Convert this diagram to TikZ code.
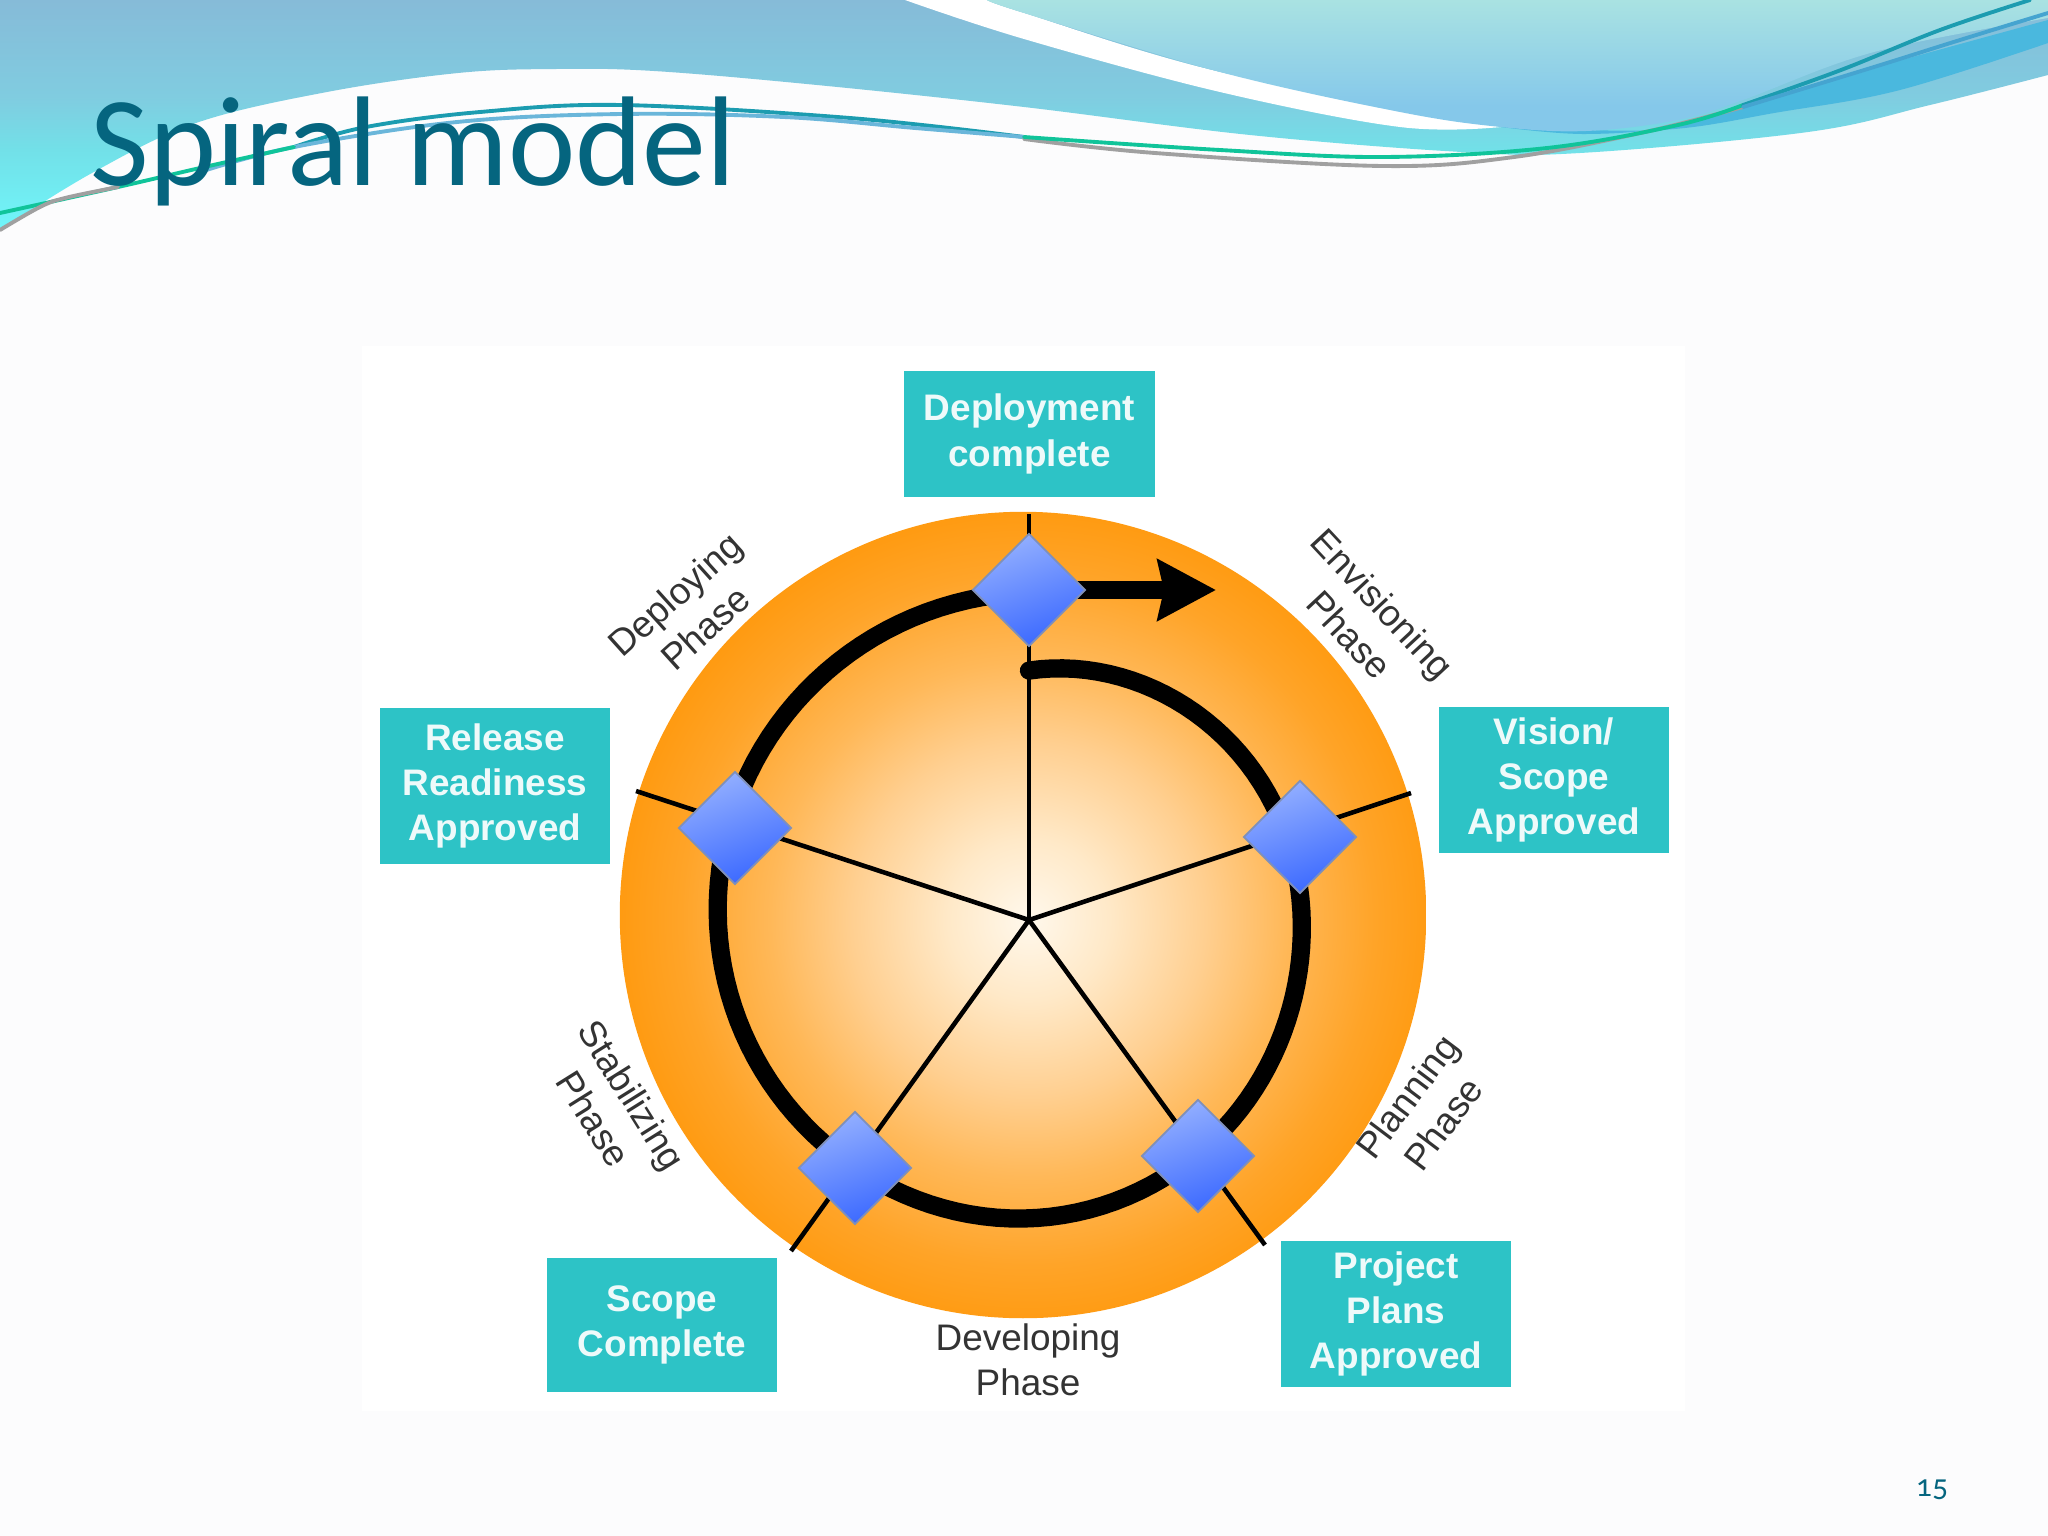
\documentclass[tikz,border=0pt]{standalone}
\usepackage{fontspec}
\setmainfont{Liberation Sans}
\newfontfamily\titlef{Carlito}
\newfontfamily\numf[Numbers=OldStyle]{Carlito}
\usetikzlibrary{shapes.geometric,arrows.meta}
\definecolor{slidebg}{HTML}{FCFCFD}
\definecolor{titlec}{HTML}{05657F}
\definecolor{boxc}{HTML}{2DC3C6}
\definecolor{boxt}{HTML}{EEFAFA}
\definecolor{labc}{HTML}{333333}
\definecolor{oc0}{HTML}{FFF8EC}
\definecolor{oc1}{HTML}{FFE9C8}
\definecolor{oc2}{HTML}{FFCF90}
\definecolor{oc3}{HTML}{FFB858}
\definecolor{oc4}{HTML}{FFA428}
\definecolor{oc5}{HTML}{FF9A10}
\definecolor{ha}{HTML}{86BBD8}
\definecolor{hb}{HTML}{80CCE0}
\definecolor{hc}{HTML}{72E0E8}
\definecolor{hd}{HTML}{70F6FA}
\definecolor{ta}{HTML}{A9E2E2}
\definecolor{tb}{HTML}{85C8EA}
\definecolor{bandc}{HTML}{4AB8DE}
\definecolor{lgreen}{HTML}{10C49A}
\definecolor{lblue}{HTML}{45A4D0}
\definecolor{ldark}{HTML}{1E5FC8}
\definecolor{lteal}{HTML}{1C9CB0}
\definecolor{lgray}{HTML}{A0A0A0}
\definecolor{dia}{HTML}{94B0FF}
\definecolor{dib}{HTML}{3A68FF}
\definecolor{dib2}{HTML}{8090B8}
\pgfdeclareverticalshading{headshade}{100bp}{color(0bp)=(hd); color(25bp)=(hd); color(42.5bp)=(hc); color(54bp)=(hb); color(75bp)=(ha); color(100bp)=(ha)}
\pgfdeclareverticalshading{tealshade}{100bp}{color(0bp)=(tb); color(35bp)=(tb); color(75bp)=(ta); color(100bp)=(ta)}
\pgfdeclareradialshading{orb}{\pgfpoint{0.37bp}{-0.3bp}}{color(0bp)=(oc0); color(5bp)=(oc1); color(11bp)=(oc2); color(16bp)=(oc3); color(21.5bp)=(oc4); color(25.5bp)=(oc5); color(100bp)=(oc5)}
\tikzset{
  declare function={sr(\t)=(200+51*\t-9*exp(-\t/0.07)-4*exp(-((\t-0.28)/0.1)^2)+3*exp(-((\t-0.5)/0.1)^2))*1.306;},
  mile/.style={rectangle,fill=boxc,text=boxt,inner sep=0pt,align=center,font=\fontsize{10.5}{12.9}\selectfont\bfseries},
  phase/.style={text=labc,inner sep=0pt,align=center,font=\fontsize{10.5}{12.9}\selectfont},
  gate/.style={diamond,aspect=1,inner sep=0pt,minimum size=1.13cm,draw=dib2,line width=0.5pt,top color=dia,bottom color=dib,shading angle=20},
  spoke/.style={line width=1.3pt,draw=black},
  thread/.style={line width=5.2pt,draw=black},
  hair/.style={line width=1.1pt,line cap=round}
}
\begin{document}
\begin{tikzpicture}[x=0.01cm,y=-0.01cm]
\useasboundingbox (0,0) rectangle (2048,1536);
\fill[slidebg] (0,0) rectangle (2048,1536);
% header
\shade[shading=headshade] plot[smooth,tension=0.6] coordinates {(0,230) (92,173) (196,123) (327,92) (458,73) (556,69) (654,71) (817,85) (1024,107) (1250,135) (1462,152) (1580,153) (1808,132) (1930,105) (2048,75)} -- (2048,0) -- (0,0) -- cycle;
\fill[white] plot[smooth,tension=0.6] coordinates {(905,0) (1024,39) (1220,92) (1400,127) (1501,127)} -- plot[smooth,tension=0.6] coordinates {(1501,127) (1220,72) (1024,13) (987,0)} -- cycle;
\fill[bandc] plot[smooth,tension=0.6] coordinates {(1501,127) (1586,134) (1678,125) (1800,88) (1920,55) (2048,20)} -- (2048,43) -- plot[smooth,tension=0.6] coordinates {(2048,43) (1900,90) (1780,112) (1660,130) (1501,127)} -- cycle;
\shade[shading=tealshade] plot[smooth,tension=0.6] coordinates {(987,0) (1024,13) (1220,72) (1400,112) (1501,127) (1586,131) (1678,120) (1743,100) (1874,52) (2048,18)} -- (2048,0) -- cycle;
% header lines
\draw[hair,lteal] plot[smooth,tension=0.6] coordinates {(294,147) (366,127) (480,112) (621,105) (850,118) (1024,137)};
\draw[hair,lblue!80!white] plot[smooth,tension=0.6] coordinates {(200,172) (294,147) (457,122) (621,114) (784,117) (915,128) (1024,137)};
\draw[hair,lgreen] plot[smooth,tension=0.6] coordinates {(0,213) (118,187) (200,168) (294,147)};
\draw[hair,lgray] plot[smooth,tension=0.6] coordinates {(0,230) (40,207) (65,198) (118,187)};
\draw[hair,lgray] plot[smooth,tension=0.6] coordinates {(1024,139) (1155,153) (1383,166) (1514,157) (1645,132) (1743,107)};
\draw[hair,lgreen] plot[smooth,tension=0.6] coordinates {(1024,137) (1220,150) (1383,157) (1547,148) (1678,125) (1743,105)};
\draw[hair,lteal] plot[smooth,tension=0.6] coordinates {(1743,105) (1841,70) (1940,30) (2030,0)};
\draw[hair,lblue] plot[smooth,tension=0.6] coordinates {(1743,107) (1874,67) (1960,40) (2048,13)};
% image
\fill[white] (362,346) rectangle (1685,1411);
% disc
\node[circle,minimum size=8.06cm,inner sep=0pt,shading=orb] (disc) at (1023,915) {};
\coordinate (hub) at (1029,920);
\coordinate (sTop) at (1029,514);
\coordinate (sEn) at (1411,793);
\coordinate (sPl) at (1265,1245);
\coordinate (sSt) at (791,1251);
\coordinate (sDe) at (636,791);
\draw[spoke] (hub) -- (sTop);
\draw[spoke] (hub) -- (sEn);
\draw[spoke] (hub) -- (sPl);
\draw[spoke] (hub) -- (sSt);
\draw[spoke] (hub) -- (sDe);
% thread
\coordinate (g0) at (1029,590);
\coordinate (arrowtip) at (1216,590);
\draw[thread,line cap=round] plot[domain=0:1,samples=140,variable=\t] ({1029+sr(\t)*sin(360*\t)},{920-sr(\t)*cos(360*\t)});
\draw[thread,-{Stealth[length=0.58cm,width=0.6cm,inset=0.06cm]}] (g0) -- (arrowtip);
% gates
\node[gate] (g1) at (1029,590) {};
\node[gate] (g2) at (1300,837) {};
\node[gate] (g3) at (1198,1156) {};
\node[gate] (g4) at (855,1168) {};
\node[gate] (g5) at (735,828) {};
% boxes
\node[mile,minimum width=2.51cm,minimum height=1.25cm] (b1) at (1029.5,434) {Deployment\\complete};
\node[mile,minimum width=2.30cm,minimum height=1.55cm] (b2) at (495,786) {Release\\Readiness\\Approved};
\node[mile,minimum width=2.30cm,minimum height=1.46cm] (b3) at (1554,780) {Vision/\\Scope\\Approved};
\node[mile,minimum width=2.30cm,minimum height=1.33cm] (b4) at (662,1325) {Scope\\Complete};
\node[mile,minimum width=2.30cm,minimum height=1.46cm] (b5) at (1396,1314) {Project\\Plans\\Approved};
% phases
\node[phase,rotate=42] (p1) at (690,611) {Deploying\\Phase};
\node[phase,rotate=-47] (p2) at (1366,619) {Envisioning\\Phase};
\node[phase,rotate=53] (p3) at (1425,1110) {Planning\\Phase};
\node[phase,rotate=-58] (p4) at (613,1107) {Stabilizing\\Phase};
\node[phase] (p5) at (1028,1360) {Developing\\Phase};
% title, number
\node[anchor=base west,inner sep=0pt,text=titlec,font=\titlef\fontsize{36.3}{40}\selectfont] (title) at (90,185) {Spiral model};
\node[inner sep=0pt,text=titlec,font=\numf\fontsize{9}{11}\selectfont] (pageno) at (1932,1490) {15};
\end{tikzpicture}
\end{document}
